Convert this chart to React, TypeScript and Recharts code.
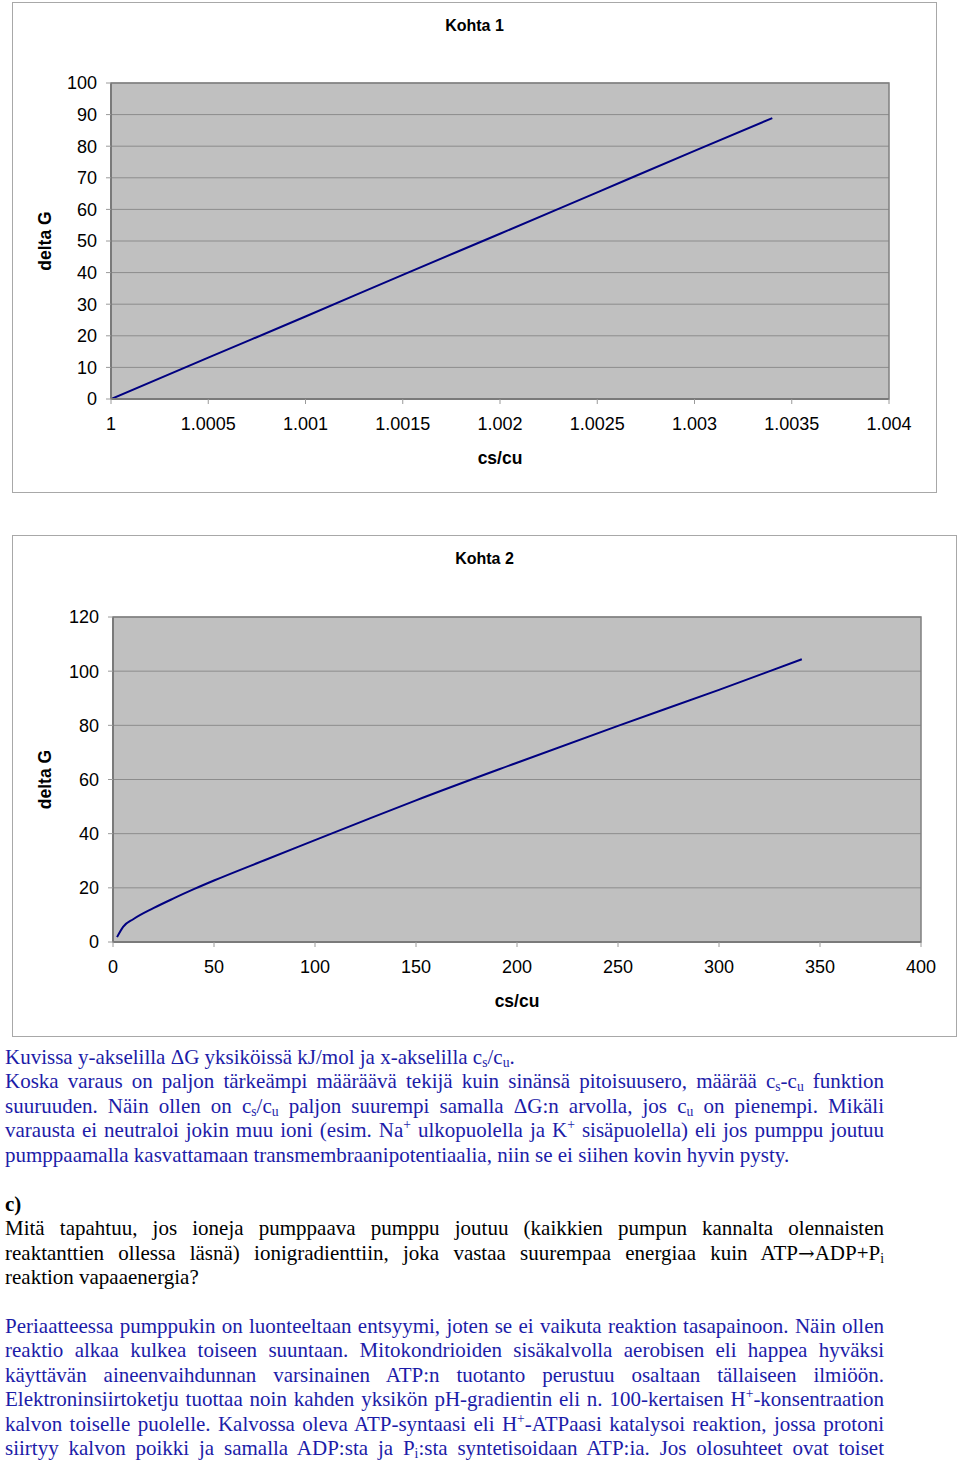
import React from 'react';
import { LineChart, Line, XAxis, YAxis, CartesianGrid, ReferenceArea } from 'recharts';

// Kohta 1: cs/cu close to 1
const ratio1 = [1, 1.0005, 1.001, 1.0015, 1.002, 1.0025, 1.003, 1.0034];
const dG1 = [0, 13.1, 26.1, 39.3, 52.3, 65.4, 78.5, 88.9];
const xTicks1 = [1, 1.0005, 1.001, 1.0015, 1.002, 1.0025, 1.003, 1.0035, 1.004];
const yTicks1 = [0, 10, 20, 30, 40, 50, 60, 70, 80, 90, 100];

// Kohta 2: cs/cu up to ~340
const ratio2 = [2, 5, 10, 20, 30, 40, 50, 75, 100, 125, 150, 200, 250, 300, 341];
const dG2 = [1.8, 5.6, 8.4, 12.5, 16.1, 19.5, 22.7, 30.2, 37.6, 45.0, 52.3, 66.2, 79.8, 93.1, 104.4];
const xTicks2 = [0, 50, 100, 150, 200, 250, 300, 350, 400];
const yTicks2 = [0, 20, 40, 60, 80, 100, 120];

const rows1 = ratio1.map((x, i) => ({ x, y: dG1[i] }));
const rows2 = ratio2.map((x, i) => ({ x, y: dG2[i] }));

const SANS = '"Liberation Sans", Arial, sans-serif';
const SERIF = '"Liberation Serif", "Times New Roman", serif';
const BLUE = '#1c1ca8';

const tickStyle = { fontSize: 18, fill: '#000', fontFamily: SANS };

function fmt(v: number) {
  return String(+v.toFixed(4));
}

function Panel({ title, rows, xTicks, yTicks, xDomain, yDomain, left, top, width, height, margin }: any) {
  const yLabel = ({ viewBox }: any) => {
    const cx = 32;
    const cy = viewBox.y + viewBox.height / 2;
    return (
      <text x={cx} y={cy} transform={`rotate(-90 ${cx} ${cy})`} textAnchor="middle"
        dominantBaseline="central" fontSize={17.5} fontWeight={700} fontFamily={SANS} fill="#000">
        delta G
      </text>
    );
  };
  const xLabel = ({ viewBox }: any) => (
    <text x={viewBox.x + viewBox.width / 2} y={viewBox.y + 59} textAnchor="middle"
      dominantBaseline="central" fontSize={17.5} fontWeight={700} fontFamily={SANS} fill="#000">
      cs/cu
    </text>
  );
  return (
    <div style={{
      position: 'absolute', left, top, width, height, boxSizing: 'border-box',
      border: '1px solid #a8a8a8', background: '#fff',
    }}>
      <div style={{
        position: 'absolute', left: 0, right: 0, top: 13, textAlign: 'center',
        fontFamily: SANS, fontWeight: 700, fontSize: 16, lineHeight: '20px',
      }}>{title}</div>
      <LineChart width={width - 2} height={height - 2} data={rows} margin={margin}>
        <CartesianGrid vertical={false} fill="#c0c0c0" fillOpacity={1} stroke="#8c8c8c" />
        <XAxis type="number" dataKey="x" domain={xDomain} ticks={xTicks} tickFormatter={fmt}
          height={30} tick={tickStyle} tickSize={5} tickMargin={13}
          axisLine={{ stroke: '#7a7a7a', strokeWidth: 2 }} tickLine={{ stroke: '#9a9a9a' }}
          allowDataOverflow label={{ content: xLabel }} />
        <YAxis type="number" domain={yDomain} ticks={yTicks} width={60}
          tick={tickStyle} tickSize={5} tickMargin={9} interval={0}
          axisLine={{ stroke: '#7a7a7a', strokeWidth: 2 }} tickLine={{ stroke: '#9a9a9a' }}
          label={{ content: yLabel }} />
        <ReferenceArea x1={xDomain[0]} x2={xDomain[1]} y1={yDomain[0]} y2={yDomain[1]}
          fill="none" stroke="#808080" strokeWidth={1.5} />
        <Line type="monotone" dataKey="y" stroke="#000080" strokeWidth={2} dot={false}
          isAnimationActive={false} />
      </LineChart>
    </div>
  );
}

const sub = (t: string) => (
  <sub style={{ fontSize: '0.65em', verticalAlign: '-0.25em', lineHeight: 0 }}>{t}</sub>
);
const sup = (t: string) => (
  <sup style={{ fontSize: '0.65em', verticalAlign: '0.6em', lineHeight: 0 }}>{t}</sup>
);

function L({ children, last, color }: any) {
  return (
    <div style={{
      height: 24.45, lineHeight: '24.45px', color, textAlign: 'justify',
      textAlignLast: last ? 'left' : 'justify', whiteSpace: 'nowrap',
    }}>{children}</div>
  );
}

export default function App() {
  return (
    <div style={{ position: 'absolute', left: 0, top: 0, width: 960, height: 1460, background: '#fff', overflow: 'hidden' }}>
      <Panel title="Kohta 1" rows={rows1} xTicks={xTicks1} yTicks={yTicks1}
        xDomain={[1, 1.004]} yDomain={[0, 100]}
        left={12} top={2} width={925} height={491}
        margin={{ top: 80, right: 47, left: 38, bottom: 63 }} />
      <Panel title="Kohta 2" rows={rows2} xTicks={xTicks2} yTicks={yTicks2}
        xDomain={[0, 400]} yDomain={[0, 120]}
        left={12} top={535} width={945} height={502}
        margin={{ top: 81, right: 35, left: 40, bottom: 64 }} />

      <div style={{ position: 'absolute', left: 5, top: 1045, width: 879, fontFamily: SERIF, fontSize: 21 }}>
        <L color={BLUE} last>Kuvissa y-akselilla ΔG yksiköissä kJ/mol ja x-akselilla c{sub('s')}/c{sub('u')}.</L>
        <L color={BLUE}>Koska varaus on paljon tärkeämpi määräävä tekijä kuin sinänsä pitoisuusero, määrää c{sub('s')}-c{sub('u')} funktion</L>
        <L color={BLUE}>suuruuden. Näin ollen on c{sub('s')}/c{sub('u')} paljon suurempi samalla ΔG:n arvolla, jos c{sub('u')} on pienempi. Mikäli</L>
        <L color={BLUE}>varausta ei neutraloi jokin muu ioni (esim. Na{sup('+')} ulkopuolella ja K{sup('+')} sisäpuolella) eli jos pumppu joutuu</L>
        <L color={BLUE} last>pumppaamalla kasvattamaan transmembraanipotentiaalia, niin se ei siihen kovin hyvin pysty.</L>
        <L last>{'\u00a0'}</L>
        <L color="#000" last><b>c)</b></L>
        <L color="#000">Mitä tapahtuu, jos ioneja pumppaava pumppu joutuu (kaikkien pumpun kannalta olennaisten</L>
        <L color="#000">reaktanttien ollessa läsnä) ionigradienttiin, joka vastaa suurempaa energiaa kuin ATP<span style={{ fontFamily: '"DejaVu Serif", serif', fontSize: '0.95em' }}>→</span>ADP+P{sub('i')}</L>
        <L color="#000" last>reaktion vapaaenergia?</L>
        <L last>{'\u00a0'}</L>
        <L color={BLUE}>Periaatteessa pumppukin on luonteeltaan entsyymi, joten se ei vaikuta reaktion tasapainoon. Näin ollen</L>
        <L color={BLUE}>reaktio alkaa kulkea toiseen suuntaan. Mitokondrioiden sisäkalvolla aerobisen eli happea hyväksi</L>
        <L color={BLUE}>käyttävän aineenvaihdunnan varsinainen ATP:n tuotanto perustuu osaltaan tällaiseen ilmiöön.</L>
        <L color={BLUE}>Elektroninsiirtoketju tuottaa noin kahden yksikön pH-gradientin eli n. 100-kertaisen H{sup('+')}-konsentraation</L>
        <L color={BLUE}>kalvon toiselle puolelle. Kalvossa oleva ATP-syntaasi eli H{sup('+')}-ATPaasi katalysoi reaktion, jossa protoni</L>
        <L color={BLUE}>siirtyy kalvon poikki ja samalla ADP:sta ja P{sub('i')}:sta syntetisoidaan ATP:ia. Jos olosuhteet ovat toiset</L>
      </div>
    </div>
  );
}
